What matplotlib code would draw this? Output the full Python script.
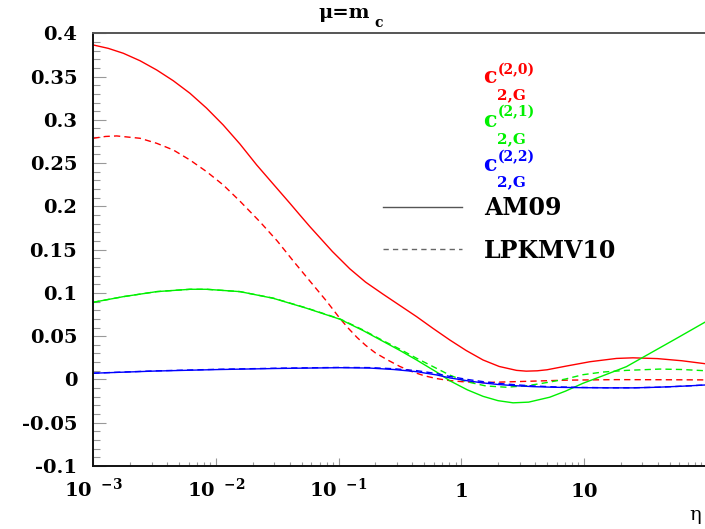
import numpy as np
import matplotlib
matplotlib.use("Agg")
import matplotlib.pyplot as plt
from matplotlib.lines import Line2D
from matplotlib.ticker import FixedLocator, FixedFormatter, LogLocator, NullFormatter

plt.rcParams['font.family'] = ['DejaVu Serif']
plt.rcParams['mathtext.fontset'] = 'custom'
plt.rcParams['mathtext.bf'] = 'DejaVu Serif:bold'
plt.rcParams['mathtext.rm'] = 'DejaVu Serif:bold'
plt.rcParams['mathtext.it'] = 'DejaVu Serif:bold'

# ---------------- data (log10 eta, value) ----------------
red_am_logeta = [-3.0, -2.878, -2.755, -2.619, -2.483, -2.348, -2.212, -2.077, -1.941, -1.805,
                 -1.668, -1.533, -1.397, -1.316, -1.234, -1.05, -0.908, -0.78, -0.637, -0.50,
                 -0.364, -0.23, -0.093, 0.04, 0.178, 0.31, 0.451, 0.53, 0.62, 0.70,
                 0.858, 1.05, 1.266, 1.40, 1.60, 1.80, 2.0]
red_am_val = [0.3865, 0.3826, 0.3769, 0.3683, 0.3576, 0.3452, 0.3307, 0.3136, 0.2941, 0.2722,
              0.2479, 0.2258, 0.2036, 0.1901, 0.1766, 0.1478, 0.1278, 0.1125, 0.0985, 0.0855,
              0.0726, 0.0590, 0.0456, 0.0335, 0.0225, 0.0150, 0.0105, 0.0096, 0.0100, 0.0112,
              0.0155, 0.0205, 0.0243, 0.0250, 0.0241, 0.0216, 0.0180]

red_lp_logeta = [-3.0, -2.9, -2.809, -2.619, -2.483, -2.348, -2.212, -2.076, -1.941, -1.804,
                 -1.64, -1.50, -1.37, -1.23, -1.098, -0.989, -0.92, -0.85, -0.78, -0.70,
                 -0.60, -0.50, -0.40, -0.30, -0.20, -0.10, 0.0, 0.178, 0.451, 0.858,
                 1.266, 1.6, 2.0]
red_lp_val = [0.2787, 0.2808, 0.2814, 0.2787, 0.2729, 0.2652, 0.2536, 0.2401, 0.2248, 0.2060,
              0.1820, 0.1600, 0.1370, 0.1130, 0.0905, 0.0705, 0.0591, 0.0486, 0.0395, 0.0307,
              0.0225, 0.0150, 0.0090, 0.0042, 0.0010, -0.0012, -0.0025, -0.0036, -0.0025, -0.0008,
              -0.0002, -0.0003, -0.0005]

green_am_logeta = [-3.0, -2.755, -2.483, -2.212, -2.076, -1.804, -1.533, -1.261, -0.989, -0.80,
                   -0.637, -0.50, -0.364, -0.20, -0.093, 0.05, 0.178, 0.30, 0.423, 0.55,
                   0.722, 0.85, 0.993, 1.15, 1.347, 1.537, 1.75, 2.0]
green_am_val = [0.0892, 0.0957, 0.1015, 0.1042, 0.1042, 0.1015, 0.0938, 0.0823, 0.0696, 0.0565,
                0.0440, 0.0335, 0.0225, 0.0085, -0.0015, -0.0120, -0.0195, -0.0245, -0.0270, -0.0262,
                -0.0205, -0.0135, -0.0044, 0.0040, 0.0148, 0.0300, 0.0470, 0.0672]

green_lp_logeta = [-3.0, -2.755, -2.483, -2.212, -2.076, -1.804, -1.533, -1.261, -0.989, -0.80,
                   -0.637, -0.50, -0.364, -0.229, -0.093, 0.043, 0.20, 0.369, 0.55, 0.722,
                   0.85, 0.993, 1.15, 1.347, 1.619, 1.80, 2.0]
green_lp_val = [0.0892, 0.0957, 0.1015, 0.1042, 0.1042, 0.1015, 0.0940, 0.0826, 0.0700, 0.0572,
                0.0448, 0.0350, 0.0245, 0.0148, 0.0050, -0.0025, -0.0075, -0.0090, -0.0070, -0.0030,
                0.0005, 0.0055, 0.0085, 0.0105, 0.0120, 0.0115, 0.0100]

blue_am_logeta = [-3.0, -2.5, -2.0, -1.5, -1.0, -0.75, -0.55, -0.364, -0.2, -0.093, 0.05, 0.178,
                  0.30, 0.45, 0.586, 0.75, 0.993, 1.2, 1.401, 1.6, 1.8, 2.0]
blue_am_val = [0.0072, 0.0097, 0.0114, 0.0127, 0.0136, 0.0132, 0.0115, 0.0090, 0.0052, 0.0018,
               -0.0015, -0.0040, -0.0058, -0.0073, -0.0083, -0.0090, -0.0095, -0.0097, -0.0097,
               -0.0090, -0.0078, -0.0063]

blue_lp_logeta = [-3.0, -2.5, -2.0, -1.5, -1.0, -0.75, -0.55, -0.364, -0.2, -0.093, 0.05, 0.178,
                  0.30, 0.45, 0.586, 0.75, 0.993, 1.2, 1.401, 1.6, 1.8, 2.0]
blue_lp_val = [0.0073, 0.0099, 0.0117, 0.0130, 0.0139, 0.0137, 0.0124, 0.0102, 0.0068, 0.0035,
               0.0000, -0.0025, -0.0045, -0.0062, -0.0075, -0.0085, -0.0092, -0.0096, -0.0096,
               -0.0090, -0.0078, -0.0063]

y_ticks = [-0.1, -0.05, 0, 0.05, 0.1, 0.15, 0.2, 0.25, 0.3, 0.35, 0.4]
y_tick_labels = ['-0.1', '-0.05', '0', '0.05', '0.1', '0.15', '0.2', '0.25', '0.3', '0.35', '0.4']
x_ticks = [1e-3, 1e-2, 1e-1, 1, 10]
x_tick_labels = [r'$\mathbf{10}^{\ \ \mathbf{-3}}$', r'$\mathbf{10}^{\ \ \mathbf{-2}}$',
                 r'$\mathbf{10}^{\ \ \mathbf{-1}}$', r'$\mathbf{1}$', r'$\mathbf{10}$']

RED, GREEN, BLUE = '#ff0000', '#00f000', '#0000ff'

# ---------------- figure ----------------
W, H = 705, 529
fig = plt.figure(figsize=(W / 100, H / 100), dpi=100)
L, R, T, B = 93.3, 706.5, 33.3, 466.0
ax = fig.add_axes([L / W, 1 - B / H, (R - L) / W, (B - T) / H])
ax.set_xscale('log')
ax.set_xlim(1e-3, 1e2)
ax.set_ylim(-0.1, 0.4)

dash = (4.5, 3.0)
lw = 1.0
series = [
    (red_am_logeta, red_am_val, RED, '-'),
    (red_lp_logeta, red_lp_val, RED, '--'),
    (green_am_logeta, green_am_val, GREEN, '-'),
    (green_lp_logeta, green_lp_val, GREEN, '--'),
    (blue_am_logeta, blue_am_val, BLUE, '-'),
    (blue_lp_logeta, blue_lp_val, BLUE, '--'),
]
for lx, v, c, ls in series:
    ln, = ax.plot(10 ** np.array(lx), v, color=c, lw=lw, ls=ls)
    if ls == '--':
        ln.set_dashes(dash)

# spines
for s in ['left', 'bottom']:
    ax.spines[s].set_color('#111111')
    ax.spines[s].set_linewidth(1.4)
ax.spines['top'].set_color('#555555')
ax.spines['top'].set_linewidth(1.4)
ax.spines['right'].set_visible(False)

# y ticks
ax.yaxis.set_major_locator(FixedLocator(y_ticks))
ax.yaxis.set_major_formatter(FixedFormatter(y_tick_labels))
ax.yaxis.set_minor_locator(FixedLocator(list(np.round(np.arange(-0.1, 0.4001, 0.01), 3))))
ax.tick_params(axis='y', which='major', direction='in', length=9.1, width=0.8, color='#999999',
               pad=11.5, labelsize=14)
ax.tick_params(axis='y', which='minor', direction='in', length=4.8, width=0.8, color='#999999')
for lab in ax.get_yticklabels():
    lab.set_fontweight('bold')
    lab.set_family('DejaVu Serif')

# x ticks
ax.xaxis.set_major_locator(FixedLocator(x_ticks))
ax.xaxis.set_major_formatter(FixedFormatter(x_tick_labels))
ax.xaxis.set_minor_locator(LogLocator(base=10, subs=np.arange(2, 10)))
ax.xaxis.set_minor_formatter(NullFormatter())
ax.tick_params(axis='x', which='major', direction='in', length=5.5, width=0.8, color='#999999',
               pad=22.3, labelsize=14)
ax.tick_params(axis='x', which='minor', direction='in', length=3.0, width=0.8, color='#999999')
for lab in ax.get_xticklabels():
    lab.set_verticalalignment('baseline')

def fx(px):
    return px / W

def fy(py):
    return 1 - py / H

# title
fig.text(fx(318), fy(18.3), 'μ=m', fontsize=14, fontweight='bold', family='DejaVu Serif',
         va='baseline', ha='left')
fig.text(fx(374), fy(26.7), 'c', fontsize=10, fontweight='bold', family='DejaVu Serif',
         va='baseline', ha='left')
# axis label
fig.text(fx(689), fy(520), 'η', fontsize=14, family='DejaVu Serif', va='baseline', ha='left')

# legend: coloured labels
legend_labels = [('(2,0)', RED, 83, 74, 99), ('(2,1)', GREEN, 126.7, 116.7, 142.7),
                 ('(2,2)', BLUE, 170.7, 161, 185.7)]
for sup, col, yc, ysup, ysub in legend_labels:
    fig.text(fx(483), fy(yc), 'c', fontsize=16, fontweight='bold', color=col, va='baseline')
    fig.text(fx(497.5), fy(ysup), sup, fontsize=10, fontweight='bold', color=col, va='baseline')
    fig.text(fx(496.5), fy(ysub), '2,G', fontsize=11, fontweight='bold', color=col, va='baseline')

fig.add_artist(Line2D([fx(383), fx(462)], [fy(207), fy(207)], color='#555555', lw=1.0))
l2 = Line2D([fx(383), fx(462)], [fy(249.3), fy(249.3)], color='#666666', lw=1.0, ls='--')
l2.set_dashes((3.8, 3.0))
fig.add_artist(l2)
fig.text(fx(484), fy(215), 'AM09', fontsize=17, fontweight='bold', va='baseline')
fig.text(fx(484), fy(257.7), 'LPKMV10', fontsize=17, fontweight='bold', va='baseline')

fig.savefig('out.png', dpi=100)
